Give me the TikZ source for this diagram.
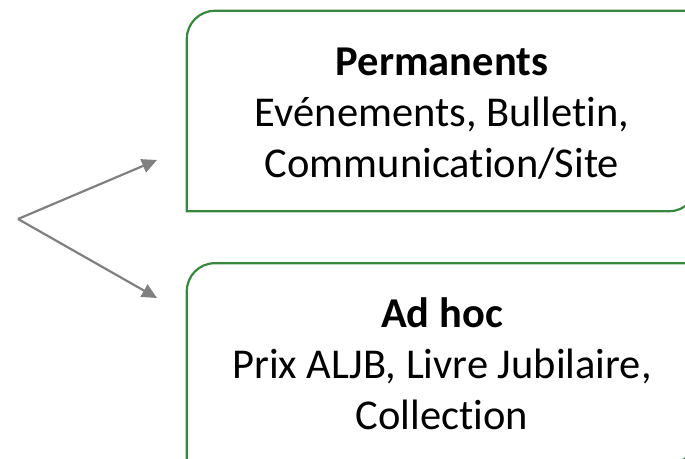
\documentclass[tikz,border=0pt]{standalone}
\usepackage{fontspec}
\setmainfont{Carlito}[Ligatures=NoCommon]
\usetikzlibrary{arrows.meta,positioning}
\definecolor{boxgreen}{RGB}{56,135,65}
\definecolor{arrowgray}{RGB}{128,128,128}

\begin{document}
\begin{tikzpicture}[x=1pt,y=1pt,>={Triangle[length=15pt,width=14pt]},every text node part/.style={align=center},
  groupbox/.style={minimum width=510pt,minimum height=200pt,inner sep=0pt,font=\fontsize{42.5}{51}\selectfont},
  outline/.style={draw=boxgreen,line width=2.2pt},
  link/.style={->,draw=arrowgray,fill=arrowgray,line width=2.2pt}]
  \useasboundingbox (0,0) rectangle (685,458);
  \clip (0,0) rectangle (685,458);
  \node[groupbox]  (perm)  at (442,347)  {\rule{0pt}{46pt}\textbf{Permanents} \\ Evénements, Bulletin, \\ Communication/Site\strut};
  \node[groupbox]  (adhoc)  [below=52pt of perm]  {\rule{0pt}{46pt}\textbf{Ad hoc} \\ Prix ALJB, Livre Jubilaire, \\ Collection\strut};
  % green outlines, round corners top left and bottom right only
  \draw[outline] (perm.south west) -- ([yshift=-28pt]perm.north west) arc[start angle=180,end angle=90,radius=28pt] -- (perm.north east) -- ([yshift=28pt]perm.south east) arc[start angle=0,end angle=-90,radius=28pt] -- cycle;
  \draw[outline] (adhoc.south west) -- ([yshift=-28pt]adhoc.north west) arc[start angle=180,end angle=90,radius=28pt] -- (adhoc.north east) -- ([yshift=28pt]adhoc.south east) arc[start angle=0,end angle=-90,radius=28pt] -- cycle;
  \coordinate (split) at (18,239);
  \coordinate (tipperm) at (157,298);
  \coordinate (tipadhoc) at (157,160);
  \draw[link] (split) -- (tipperm);
  \draw[link] (split) -- (tipadhoc);
\end{tikzpicture}
\end{document}
